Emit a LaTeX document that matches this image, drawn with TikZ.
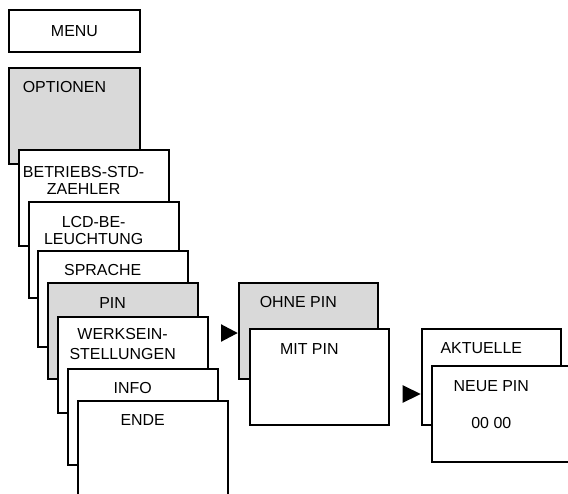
\documentclass[tikz,border=0pt]{standalone}
\usepackage{fontspec}
\setmainfont{Liberation Sans}
\usetikzlibrary{calc}
\definecolor{MenuInk}{HTML}{000000}
\definecolor{MenuShade}{HTML}{D9D9D9}
\tikzset{
  menu box/.style={draw=MenuInk, fill=white, line width=1.6pt, inner sep=0pt, anchor=north west,
    minimum width=4.5cm, minimum height=2.88cm},
  menu top/.style={menu box, minimum width=3.93cm},
  menu sub/.style={menu box, minimum width=4.18cm},
  menu shaded/.style={fill=MenuShade},
  menu text/.style={font=\fontsize{13.6}{14.5}\selectfont, text=MenuInk, inner sep=0pt, anchor=north, align=center},
  menu pointer/.style={fill=MenuInk},
}

\begin{document}
\begin{tikzpicture}[x=0.03cm,y=-0.03cm]
  \useasboundingbox (0,0) rectangle (568,493);
  \clip (0,0) rectangle (568,493);

  % Top of the menu tree.
  \node[menu top, minimum height=1.26cm] (menu) at (8,9) {};
  \node[menu text, anchor=center] (menuT) at (menu.center) {MENU};
  \node[menu top, menu shaded] (opt) at (8,67) {};
  \node[menu text] (optT) at ($(opt.north)+(-10,14)$) {OPTIONEN};

  % Option pages, stacked like cards; each one covers the one before.
  \node[menu box] (betr) at (17.7,149) {};
  \node[menu text] (betrT) at ($(betr.north)+(-10,17)$) {BETRIEBS-STD-\\ZAEHLER};
  \node[menu box] (lcd) at (27.7,200.7) {};
  \node[menu text] (lcdT) at ($(lcd.north)+(-10,15)$) {LCD-BE-\\LEUCHTUNG};
  \node[menu box] (lang) at (36.7,250) {};
  \node[menu text] (langT) at ($(lang.north)+(-10,14)$) {SPRACHE};
  \node[menu box, menu shaded] (pin) at (46.7,282) {};
  \node[menu text] (pinT) at ($(pin.north)+(-10,15)$) {PIN};
  \node[menu box] (works) at (56.7,316) {};
  \node[menu text] (worksT) at ($(works.north)+(-10,12)$) {WERKSEIN-\\[3pt]STELLUNGEN};
  \node[menu box] (info) at (66.7,368) {};
  \node[menu text] (infoT) at ($(info.north)+(-10,14)$) {INFO};
  \node[menu box] (ende) at (76.7,400) {};
  \node[menu text] (endeT) at ($(ende.north)+(-10,14)$) {ENDE};

  % PIN submenu.
  \node[menu sub, menu shaded] (ohne) at (237.7,281.7) {};
  \node[menu text] (ohneT) at ($(ohne.north)+(-10,14)$) {OHNE PIN};
  \node[menu sub] (mit) at (248.7,328) {};
  \node[menu text] (mitT) at ($(mit.north)+(-10,15)$) {MIT PIN};
  \coordinate (pinTip) at ($(ohne.north west)+(0,51.3)$);
  \fill[menu pointer] (pinTip) -- ++(-16.7,-8.8) -- ++(0,17.6) -- cycle;

  % MIT PIN: current and new code.
  \node[menu sub] (akt) at (420.7,328) {};
  \node[menu text] (aktT) at ($(akt.north)+(-10,14)$) {AKTUELLE};
  \node[menu sub] (neu) at (430.7,365) {};
  \node[menu text] (neuT) at ($(neu.north)+(-10,15)$) {NEUE PIN};
  \node[menu text] (neuCode) at ($(neu.north)+(-10,52)$) {00 00};
  \coordinate (codeTip) at ($(akt.north west)+(0,66)$);
  \fill[menu pointer] (codeTip) -- ++(-18,-8.8) -- ++(0,17.6) -- cycle;
\end{tikzpicture}
\end{document}
